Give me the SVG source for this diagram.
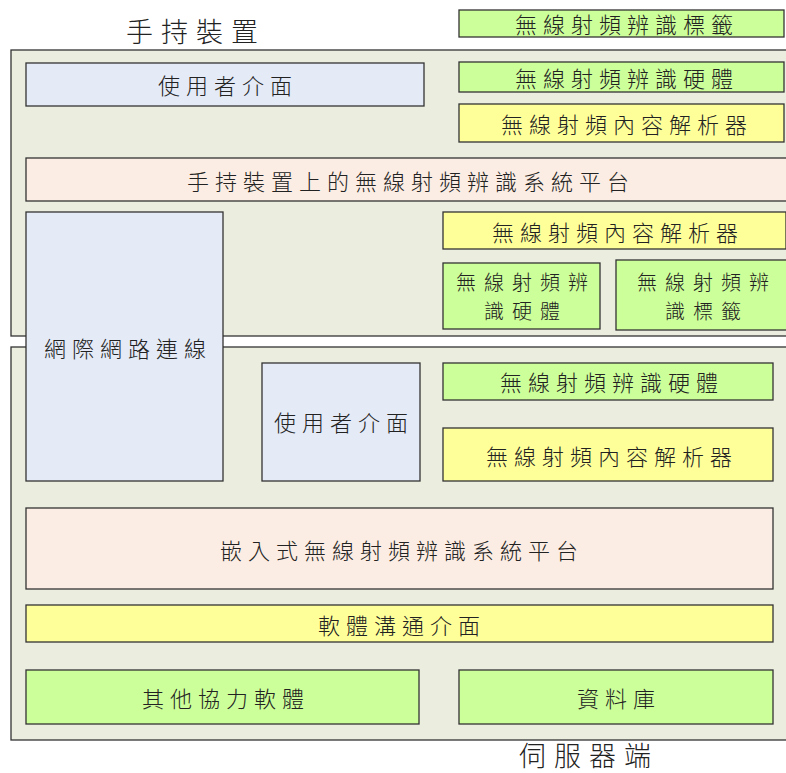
<svg xmlns="http://www.w3.org/2000/svg" width="786" height="773" viewBox="0 0 786 773">
<style>
rect{stroke:#333;stroke-width:1.3}
.ct{fill:#EBEEDF}
.bl{fill:#E4EAF6}
.gr{fill:#CCFF99}
.ye{fill:#FFFF99}
.pe{fill:#FBEDE3}
text{font-family:"Noto Sans CJK TC","Noto Sans CJK SC",sans-serif;font-size:22px;font-weight:300;letter-spacing:6px;fill:#222;text-anchor:middle;dominant-baseline:central}
.h{font-size:27px;letter-spacing:8px}
.s{font-size:20px;letter-spacing:8px}
</style>
<rect width="786" height="773" fill="#fff" style="stroke:none"/>
<g id="handheld">
<rect class="ct" x="11" y="50" width="790" height="286"/>
<text class="h" x="196" y="30">手持裝置</text>
</g>
<g id="server">
<rect class="ct" x="11" y="347" width="790" height="393"/>
<text class="h" x="589" y="754">伺服器端</text>
</g>
<g id="connectors"></g>
<g id="tag-top"><rect class="gr" x="459" y="10" width="325" height="27"/><text x="627" y="23">無線射頻辨識標籤</text></g>
<g id="ui-top"><rect class="bl" x="26" y="63" width="398" height="43"/><text x="228" y="84">使用者介面</text></g>
<g id="hw-top"><rect class="gr" x="459" y="62" width="325" height="30"/><text x="627" y="77">無線射頻辨識硬體</text></g>
<g id="parser-top"><rect class="ye" x="459" y="104" width="325" height="38"/><text x="627" y="123">無線射頻內容解析器</text></g>
<g id="platform-top"><rect class="pe" x="26" y="158" width="770" height="43"/><text x="411" y="180">手持裝置上的無線射頻辨識系統平台</text></g>
<g id="internet"><rect class="bl" x="26" y="212" width="197" height="269"/><text x="128" y="347">網際網路連線</text></g>
<g id="parser-mid"><rect class="ye" x="443" y="212" width="343" height="37"/><text x="618" y="231">無線射頻內容解析器</text></g>
<g id="hw-mid"><rect class="gr" x="443" y="263" width="157" height="66"/><text class="s" x="526" y="281">無線射頻辨</text><text class="s" x="526" y="310">識硬體</text></g>
<g id="tag-mid"><rect class="gr" x="616" y="260" width="175" height="70"/><text class="s" x="707" y="281">無線射頻辨</text><text class="s" x="707" y="310">識標籤</text></g>
<g id="hw-bot"><rect class="gr" x="443" y="363" width="330" height="37"/><text x="612" y="381">無線射頻辨識硬體</text></g>
<g id="ui-bot"><rect class="bl" x="262" y="363" width="158" height="118"/><text x="344" y="421">使用者介面</text></g>
<g id="parser-bot"><rect class="ye" x="443" y="428" width="330" height="53"/><text x="612" y="455">無線射頻內容解析器</text></g>
<g id="platform-bot"><rect class="pe" x="26" y="508" width="747" height="81"/><text x="402" y="549">嵌入式無線射頻辨識系統平台</text></g>
<g id="comm"><rect class="ye" x="26" y="605" width="747" height="37"/><text x="402" y="624">軟體溝通介面</text></g>
<g id="other"><rect class="gr" x="26" y="670" width="393" height="54"/><text x="226" y="697">其他協力軟體</text></g>
<g id="db"><rect class="gr" x="459" y="670" width="314" height="54"/><text x="619" y="697">資料庫</text></g>
</svg>
